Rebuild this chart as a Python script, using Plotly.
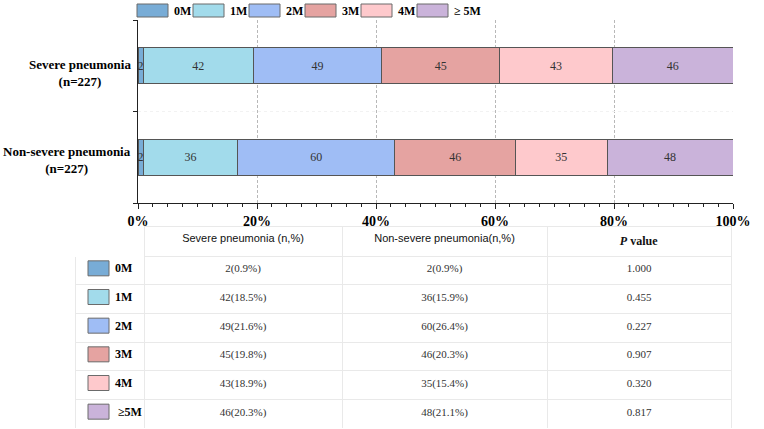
import plotly.graph_objects as go

W, H = 764, 429

categories = ["0M", "1M", "2M", "3M", "4M", "≥5M"]
legend_labels = ["0M", "1M", "2M", "3M", "4M", "≥ 5M"]
groups = ["Severe pneumonia<br>(n=227)", "Non-severe pneumonia<br>(n=227)"]
severe_counts = [2, 42, 49, 45, 43, 46]
nonsevere_counts = [2, 36, 60, 46, 35, 48]
severe_pct = ["0.9", "18.5", "21.6", "19.8", "18.9", "20.3"]
nonsevere_pct = ["0.9", "15.9", "26.4", "20.3", "15.4", "21.1"]
p_values = ["1.000", "0.455", "0.227", "0.907", "0.320", "0.817"]
colors = ["#78acd6", "#a2dbeb", "#9fbdf5", "#e5a3a1", "#fec9cc", "#cab3da"]
x_tick_vals = [0, 20, 40, 60, 80, 100]
x_tick_text = ["0%", "20%", "40%", "60%", "80%", "100%"]

SERIF = "Liberation Serif"
SANS = "Liberation Sans"


def px_x(x):
    return x / W


def px_y(y):
    return 1 - y / H


fig = go.Figure()
for i, c in enumerate(categories):
    fig.add_trace(go.Bar(
        y=groups,
        x=[severe_counts[i], nonsevere_counts[i]],
        orientation="h",
        name=c,
        width=0.39,
        marker=dict(color=colors[i], line=dict(color="#555555", width=1)),
        text=[str(severe_counts[i]), str(nonsevere_counts[i])],
        textposition="inside",
        insidetextanchor="middle",
        textfont=dict(family=SERIF, size=12, color="#333333"),
        showlegend=False,
        hoverinfo="skip",
    ))

fig.update_layout(
    width=W, height=H, margin=dict(l=0, r=0, t=0, b=0),
    paper_bgcolor="white", plot_bgcolor="white",
    barmode="stack", barnorm="percent",
    uniformtext=dict(minsize=12, mode="show"),
    xaxis=dict(
        domain=[px_x(138), px_x(733)], range=[0, 100], automargin=False,
        tickvals=x_tick_vals, ticktext=["<b>%s</b>" % t for t in x_tick_text],
        tickfont=dict(family=SERIF, size=14, color="black"),
        showgrid=True, gridcolor="#b8b8b8", griddash="3px,2px", gridwidth=1,
        zeroline=False, showline=True, linecolor="#222", linewidth=1,
        ticks="outside", ticklen=5, tickcolor="#222",
        minor=dict(dtick=2.5, ticks="outside", ticklen=3, tickcolor="#222", showgrid=False),
    ),
    yaxis=dict(
        domain=[px_y(203), px_y(20)], range=[-0.5, 1.5], automargin=False,
        categoryorder="array", categoryarray=groups[::-1],
        showticklabels=False,
        tickson="boundaries", ticks="outside", ticklen=4, tickcolor="#222",
        showgrid=True, gridcolor="#f2f2f2", griddash="dot",
        showline=True, linecolor="#222", linewidth=1, zeroline=False,
    ),
)

shapes = []
annotations = []
# category labels (y axis)
for g, shift in zip(groups, [-7, -3]):
    annotations.append(dict(xref="paper", yref="y", x=px_x(133), y=g, yshift=shift,
                            text="<b>%s</b>" % g, showarrow=False, xanchor="right",
                            yanchor="middle", align="center",
                            font=dict(family=SERIF, size=13, color="black")))

# top legend
for i, lab in enumerate(legend_labels):
    x0 = 137 + 56 * i
    shapes.append(dict(type="rect", xref="paper", yref="paper",
                       x0=px_x(x0), x1=px_x(x0 + 31), y0=px_y(17), y1=px_y(4),
                       fillcolor=colors[i], line=dict(color="#6b6b6b", width=1)))
    annotations.append(dict(xref="paper", yref="paper", x=px_x(x0 + 35), y=px_y(11),
                            text="<b>%s</b>" % lab, showarrow=False, xanchor="left",
                            yanchor="middle", font=dict(family=SERIF, size=12, color="black")))

# table
tbl_top = 226
hdr_bottom = 256
row_h = (428 - hdr_bottom) / 6
col_edges = [75, 144, 342, 547, 731]
col_widths = [col_edges[k + 1] - col_edges[k] for k in range(4)]
severe_cells = ["%d(%s%%)" % (n, p) for n, p in zip(severe_counts, severe_pct)]
nonsevere_cells = ["%d(%s%%)" % (n, p) for n, p in zip(nonsevere_counts, nonsevere_pct)]

fig.add_trace(go.Table(
    domain=dict(x=[px_x(col_edges[0]), px_x(col_edges[-1])], y=[0, px_y(tbl_top)]),
    columnwidth=col_widths,
    header=dict(
        values=["", "Severe pneumonia (n,%)", "Non-severe pneumonia(n,%)", "<b><i>P</i> value</b>"],
        height=hdr_bottom - tbl_top, align="center",
        fill=dict(color="white"),
        line=dict(color=["white", "#e9e9e9", "#e9e9e9", "#e9e9e9"], width=1),
        font=dict(family=[SANS, SANS, SANS, SERIF], size=[11, 11, 11, 12], color="#111"),
    ),
    cells=dict(
        values=[[""] * 6, severe_cells, nonsevere_cells, p_values],
        height=row_h, align="center",
        fill=dict(color="white"),
        line=dict(color="#e9e9e9", width=1),
        font=dict(family=SERIF, size=11, color="#333"),
    ),
))

for i, c in enumerate(categories):
    yc = hdr_bottom + row_h * (i + 0.5) - 2
    shapes.append(dict(type="rect", xref="paper", yref="paper",
                       x0=px_x(88), x1=px_x(109), y0=px_y(yc + 7.5), y1=px_y(yc - 7.5),
                       fillcolor=colors[i], line=dict(color="#6b6b6b", width=1)))
    annotations.append(dict(xref="paper", yref="paper", x=px_x(113 if i < 5 else 116), y=px_y(yc),
                            text="<b>%s</b>" % c, showarrow=False, xanchor="left",
                            yanchor="middle", font=dict(family=SERIF, size=12, color="black")))

fig.update_layout(shapes=shapes, annotations=annotations)
fig.write_html("out.html")
